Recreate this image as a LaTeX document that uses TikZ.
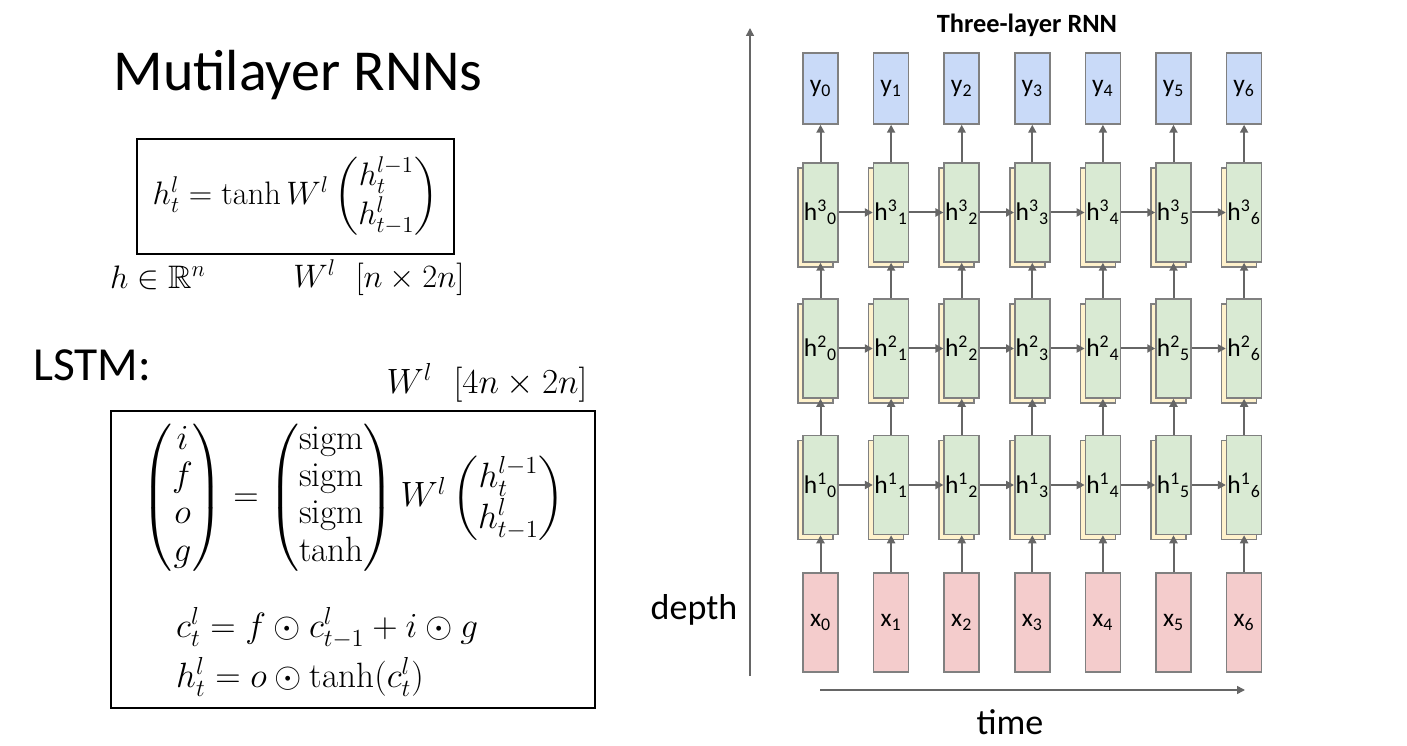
\RequirePackage{fix-cm}
\documentclass[tikz,border=0pt]{standalone}
\usepackage{amsmath,amssymb}
\usepackage{fontspec}
\newfontfamily\calib{Carlito}
\usetikzlibrary{arrows.meta,positioning,shadows}
\definecolor{outblue}{HTML}{C9DAF8}
\definecolor{hidgreen}{HTML}{D9EAD3}
\definecolor{cream}{HTML}{FFF2CC}
\definecolor{inpink}{HTML}{F4CCCC}
\definecolor{boxline}{HTML}{808080}
\definecolor{arrowgray}{HTML}{666666}

\begin{document}
\begin{tikzpicture}[x=0.2mm,y=-0.2mm,>={Triangle[length=1.6mm,width=1.6mm]},
  cell/.style={draw=boxline,line width=0.3mm,minimum width=7mm,inner sep=0pt,
               font=\calib\fontsize{14.5}{16}\selectfont},
  ybox/.style={cell,fill=outblue,minimum height=14.2mm},
  hbox/.style={cell,fill=hidgreen,minimum height=19.8mm,
               copy shadow={shadow xshift=-1mm,shadow yshift=-1mm,fill=cream,draw=boxline,line width=0.3mm}},
  xbox/.style={cell,fill=inpink,minimum height=19.8mm},
  link/.style={->,draw=arrowgray,line width=0.4mm},
  eqbox/.style={draw=black,line width=0.4mm,inner sep=0pt}]
\useasboundingbox (0,0) rectangle (1407,746);

% left side: title and formulas
\node[font=\calib\fontsize{33}{38}\selectfont] (title) at (298,75) {Mutilayer RNNs};
\node[eqbox,minimum width=63.4mm,minimum height=23mm,font=\fontsize{18.5}{22}\selectfont] (rnnbox) at (295.5,196.5)
  {$h_t^l = \tanh W^l \begin{pmatrix} h_t^{l-1} \\ h_{t-1}^l \end{pmatrix}$};
\node[font=\fontsize{18.5}{22}\selectfont] (hdim) at (158,278) {$h \in \mathbb{R}^n$};
\node[font=\fontsize{18.5}{22}\selectfont] (wdim) at (379,278) {$W^l\ \ [n \times 2n]$};

\node[font=\calib\fontsize{27}{32}\selectfont] (lstm) at (92,365) {LSTM:};
\node[font=\fontsize{20}{24}\selectfont] (wlstm) at (487,383) {$W^l\ \ [4n \times 2n]$};
\node[eqbox,minimum width=96.8mm,minimum height=59.4mm] (lstmbox) at (353,559.5) {};
\node[font=\fontsize{20}{24}\selectfont] (gates) at (353,498)
  {\renewcommand{\arraystretch}{0.88}%
   $\begin{pmatrix} i \\ f \\ o \\ g \end{pmatrix} =
    \begin{pmatrix} \mathrm{sigm} \\ \mathrm{sigm} \\ \mathrm{sigm} \\ \tanh \end{pmatrix}
    W^l \begin{pmatrix} h_t^{l-1} \\ h_{t-1}^l \end{pmatrix}$};
\node[font=\fontsize{20}{24}\selectfont,anchor=west] (ceq) at (170,628) {$c_t^l = f \odot c_{t-1}^l + i \odot g$};
\node[font=\fontsize{20}{24}\selectfont,anchor=west] (heq) at (170,677) {$h_t^l = o \odot \tanh(c_t^l)$};

% right side: three-layer RNN
\node[font=\calib\bfseries\fontsize{15}{18}\selectfont] (rnntitle) at (1027,25) {Three-layer RNN};
\foreach \i in {0,...,6} {
  \node[ybox] (y\i) at ({820.5+70.6*\i},88.5) {y\textsubscript{\i}};
  \node[hbox] (h3\i) at ({820.5+70.6*\i},212.5) {h\textsuperscript{3}\textsubscript{\i}};
  \node[hbox] (h2\i) at ({820.5+70.6*\i},348.5) {h\textsuperscript{2}\textsubscript{\i}};
  \node[hbox] (h1\i) at ({820.5+70.6*\i},485) {h\textsuperscript{1}\textsubscript{\i}};
  \node[xbox] (x\i) at ({820.5+70.6*\i},622.5) {x\textsubscript{\i}};
  \draw[link] (x\i) -- (h1\i);
  \draw[link] (h1\i) -- (h2\i);
  \draw[link] (h2\i) -- (h3\i);
  \draw[link] (h3\i) -- (y\i);
}
\foreach \i [count=\j] in {0,...,5} {
  \draw[link] (h1\i) -- (h1\j);
  \draw[link] (h2\i) -- (h2\j);
  \draw[link] (h3\i) -- (h3\j);
}

% axes
\coordinate (dbot) at (750,676);
\coordinate (dtop) at (750,28);
\coordinate (tleft) at (820,690);
\coordinate (tright) at (1245,690);
\draw[link,line width=0.3mm] (dbot) -- (dtop);
\draw[link,line width=0.3mm] (tleft) -- (tright);
\node[font=\calib\fontsize{20.5}{24}\selectfont] (depth) at (694,610) {depth};
\node[font=\calib\fontsize{20.5}{24}\selectfont] (time) at (1010,722) {time};
\end{tikzpicture}
\end{document}
